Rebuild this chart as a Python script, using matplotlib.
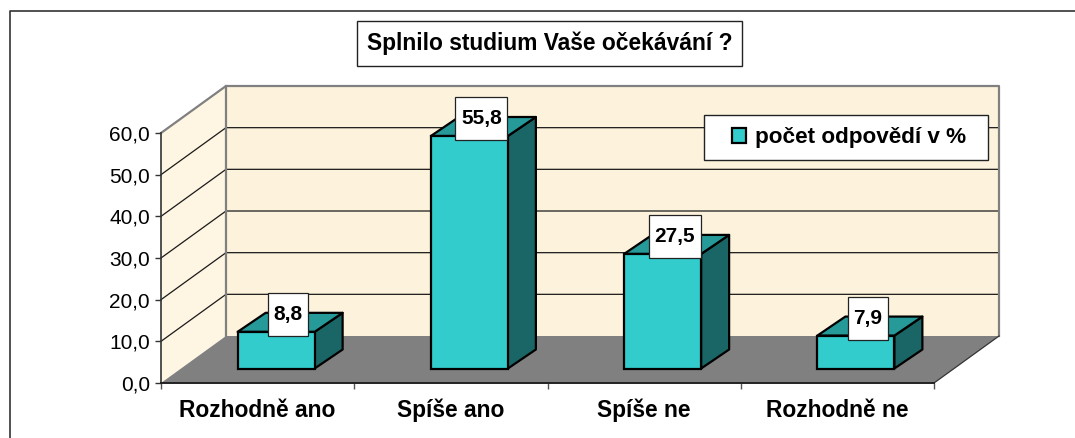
import matplotlib
matplotlib.use('Agg')
import matplotlib.pyplot as plt
from matplotlib.patches import Rectangle, Polygon
from matplotlib.transforms import IdentityTransform
import numpy as np

plt.rcParams['font.family'] = ['Liberation Sans', 'DejaVu Sans']

# data
categories = ['Rozhodně ano', 'Spíše ano', 'Spíše ne', 'Rozhodně ne']
values = [8.8, 55.8, 27.5, 7.9]
value_labels = ['8,8', '55,8', '27,5', '7,9']
series_name = 'počet odpovědí v %'
title = 'Splnilo studium Vaše očekávání ?'
yticks = [0, 10, 20, 30, 40, 50, 60]
ytick_labels = ['0,0', '10,0', '20,0', '30,0', '40,0', '50,0', '60,0']

W, H = 1075, 438
fig = plt.figure(figsize=(W / 100, H / 100), dpi=100, facecolor='white')

# front plane of the 3d box, pixels measured from the top left
left, right, top, bottom = 161, 934, 133, 383
ax = fig.add_axes([left / W, 1 - bottom / H, (right - left) / W, (bottom - top) / H])
ax.set_xlim(-0.5, 3.5)
ax.set_ylim(0, 60)
ax.patch.set_visible(False)

# depth of the box and the bars, in data units
px_x = (right - left) / 4
px_y = (bottom - top) / 60
depth_x, depth_y = 65 / px_x, 47 / px_y
bar_w = 77 / px_x
bar_dx, bar_dy = 28 / px_x, 19 / px_y
shift_x, shift_y = 18.5 / px_x, 14.5 / px_y

wall = '#fdf3dd'
floor = '#808080'
face = '#33cccc'
side = '#1a6666'
roof = '#269999'
x0, x1 = -0.5, 3.5
y_top = 60

# walls and floor
ax.add_patch(Polygon([(x0, 0), (x0, y_top), (x0 + depth_x, y_top + depth_y), (x0 + depth_x, depth_y)],
                     fc='#fef5e2', ec='none', clip_on=False, zorder=1))
ax.add_patch(Rectangle((x0 + depth_x, depth_y), x1 - x0, y_top, fc=wall, ec='none', clip_on=False, zorder=1))
ax.add_patch(Polygon([(x0, 0), (x1, 0), (x1 + depth_x, depth_y), (x0 + depth_x, depth_y)],
                     fc=floor, ec='none', clip_on=False, zorder=2))

# gridlines on both walls
for t in yticks[1:-1]:
    ax.plot([x0, x0 + depth_x, x1 + depth_x], [t, t + depth_y, t + depth_y],
            color='#1a1a1a', lw=0.9, clip_on=False, zorder=3)

# grey edges of the walls
edge = dict(color='#808080', lw=1.6, clip_on=False, zorder=3, solid_capstyle='projecting')
ax.plot([x0, x0 + depth_x, x1 + depth_x, x1 + depth_x], [y_top, y_top + depth_y, y_top + depth_y, depth_y], **edge)
ax.plot([x0 + depth_x, x0 + depth_x], [depth_y, y_top + depth_y], **edge)
ax.plot([x1, x1 + depth_x], [0, depth_y], color='#333333', lw=0.9, clip_on=False, zorder=3)

# bars
pos = np.arange(len(categories)) + shift_x
ax.bar(pos, values, width=bar_w, bottom=shift_y, color=face, edgecolor='black', linewidth=1.6,
       label=series_name, zorder=5, clip_on=False)
for p, v in zip(pos, values):
    l, r = p - bar_w / 2, p + bar_w / 2
    b, t = shift_y, shift_y + v
    ax.add_patch(Polygon([(r, b), (r + bar_dx, b + bar_dy), (r + bar_dx, t + bar_dy), (r, t)],
                         fc=side, ec='black', lw=1.6, clip_on=False, zorder=4, joinstyle='round'))
    ax.add_patch(Polygon([(l, t), (l + bar_dx, t + bar_dy), (r + bar_dx, t + bar_dy), (r, t)],
                         fc=roof, ec='black', lw=1.6, clip_on=False, zorder=4, joinstyle='round'))

# value labels in white boxes
box_w = {3: 40, 4: 52}
for p, v, s in zip(pos, values, value_labels):
    cx, cy = ax.transData.transform((p + bar_dx / 2, shift_y + v + bar_dy / 2))
    cx -= 2
    cy += 8
    w = box_w[len(s)]
    ax.add_patch(Rectangle((cx - w / 2, cy - 21.5), w, 43, transform=IdentityTransform(),
                           fc='white', ec='#222222', lw=0.9, clip_on=False, zorder=7))
    ax.text(cx, cy, s, transform=IdentityTransform(), ha='center', va='center',
            fontsize=15, fontweight='bold', color='black', zorder=8)

# axes
for name in ['top', 'right']:
    ax.spines[name].set_visible(False)
ax.spines['left'].set(color='#333333', linewidth=1.2, zorder=6)
ax.spines['bottom'].set(color='#222222', linewidth=1.4, zorder=6)
ax.set_yticks(yticks)
ax.set_yticklabels(ytick_labels, fontsize=15)
ax.tick_params(axis='y', length=4, width=1, color='#333333', pad=4)
ax.set_xticks(np.arange(-0.5, 4))
ax.set_xticklabels([])
ax.tick_params(axis='x', length=4, width=1, color='#555555')
ax.set_xticks(np.arange(4), minor=True)
ax.set_xticklabels(categories, minor=True, fontsize=16.4, fontweight='bold')
ax.tick_params(axis='x', which='minor', length=0, pad=11.5)

# legend
ax.add_patch(Rectangle((704, H - 160), 284, 45, transform=IdentityTransform(),
                       fc='white', ec='#222222', lw=1, clip_on=False, zorder=9))
handles, labels = ax.get_legend_handles_labels()
leg = ax.legend(handles, labels, loc='center', bbox_to_anchor=(849 / W, 1 - 138 / H),
                bbox_transform=fig.transFigure, frameon=False, handlelength=0.6, handleheight=0.6,
                handletextpad=0.4, prop=dict(size=16.2, weight='bold'))
leg.set_zorder(10)

# title box
fig.add_artist(Rectangle((357, H - 66), 385, 45, transform=IdentityTransform(),
                         fc='white', ec='#222222', lw=1))
fig.text(549.5 / W, 1 - 43.5 / H, title, ha='center', va='center', fontsize=16.4, fontweight='bold')

# outer chart border
fig.add_artist(plt.Line2D([10 / W, 10 / W, 1], [0, 1 - 11 / H, 1 - 11 / H], color='#333333', lw=1.2))

plt.savefig('out.png', dpi=100)
